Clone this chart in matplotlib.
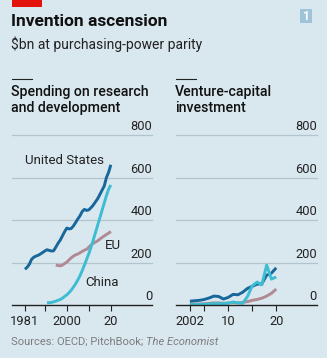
import matplotlib.pyplot as plt
from matplotlib.patches import Rectangle
from matplotlib.lines import Line2D
import matplotlib.transforms as mtransforms

# Datos: gasto en I+D ($bn, PPA)
rd_us_years = list(range(1981, 2021))
rd_us = [168, 178, 192, 215, 225, 230, 234, 240, 247, 254,
         260, 257, 254, 255, 272, 290, 305, 325, 345, 362,
         358, 360, 372, 388, 405, 420, 440, 450, 445, 448,
         458, 470, 485, 500, 520, 540, 560, 600, 625, 660]
rd_eu_years = list(range(1995, 2021))
rd_eu = [188, 186, 184, 188, 195, 202, 212, 222, 230, 236,
         240, 246, 252, 258, 262, 272, 282, 290, 296, 302,
         310, 318, 325, 332, 338, 346]
rd_cn_years = list(range(1991, 2021))
rd_cn = [10, 11, 12, 15, 18, 22, 26, 32, 40, 48,
         58, 70, 84, 100, 118, 138, 162, 188, 215, 242,
         272, 305, 340, 375, 410, 445, 480, 515, 545, 565]

# Datos: capital riesgo ($bn)
vc_years = list(range(2002, 2021))
vc_us = [18, 20, 22, 26, 33, 42, 40, 28, 36, 50, 48, 60, 78, 88, 98, 100, 140, 150, 175]
vc_cn = [2, 2, 3, 4, 5, 6, 7, 6, 9, 14, 10, 8, 40, 90, 108, 95, 188, 122, 132]
vc_eu = [6, 5, 5, 6, 8, 10, 10, 8, 9, 11, 10, 12, 16, 22, 26, 32, 42, 55, 75]

y_ticks = [0, 200, 400, 600, 800]
rd_xticks = [1981, 1990, 2000, 2010, 2020]
rd_xlabels = ["1981", "", "2000", "", "20"]
vc_xticks = [2002, 2005, 2010, 2015, 2020]
vc_xlabels = ["2002", "", "10", "", "20"]

BG = "#d9e7ef"
US = "#17679a"
CN = "#3dbdd3"
EU = "#b08a92"
GRID = "#b3c4ce"
TXT = "#222222"

W, H = 327, 358
fig = plt.figure(figsize=(W / 100, H / 100), dpi=100, facecolor=BG)
plt.rcParams["font.family"] = "Roboto"


def fx(x):
    return x / W


def fy(y):
    return 1 - y / H


# Cabecera
fig.add_artist(Rectangle((fx(12), fy(7)), fx(30), 7 / H, transform=fig.transFigure,
                         facecolor="#e3120b", edgecolor="none"))
fig.add_artist(Rectangle((fx(300), fy(23)), fx(12), 14 / H, transform=fig.transFigure,
                         facecolor="#9fc3d7", edgecolor="none"))
fig.text(fx(306), fy(16), "1", color="white", fontsize=8.5, fontweight="bold",
         ha="center", va="center")
fig.text(fx(11), fy(22), "Invention ascension", fontsize=12.5, fontweight="bold",
         color="#111111", va="center")
fig.text(fx(11), fy(44), "$bn at purchasing-power parity", fontsize=10,
         color="#222222", va="center")

for x0, title in [(12, "Spending on research\nand development"),
                  (176, "Venture-capital\ninvestment")]:
    fig.add_artist(Line2D([fx(x0), fx(x0 + 20)], [fy(79), fy(79)],
                          transform=fig.transFigure, color="#222222", lw=0.8))
    fig.text(fx(x0 - 1), fy(100), title, fontsize=10.2, fontweight="medium",
             color="#111111", va="center", linespacing=1.15)

bottom = fy(305)
height = (305 - 135) / H
ax1 = fig.add_axes([fx(12), bottom, fx(140), height])
ax2 = fig.add_axes([fx(176), bottom, fx(141), height])


def estilo(ax, xlim, xticks, xlabels):
    ax.set_facecolor("none")
    ax.set_xlim(*xlim)
    ax.set_ylim(0, 800)
    for s in ax.spines.values():
        s.set_visible(False)
    ax.set_yticks([])
    for v in y_ticks[1:]:
        ax.axhline(v, color=GRID, lw=0.9, zorder=1, clip_on=False)
    ax.axhline(0, color="#222222", lw=1.0, zorder=5, clip_on=False)
    trans = mtransforms.blended_transform_factory(ax.transAxes, ax.transData)
    for v in y_ticks:
        ax.text(1.0, v + 8, str(v), transform=trans, ha="right", va="bottom",
                fontsize=9.3, color=TXT)
    ax.set_xticks(xticks)
    ax.set_xticklabels(xlabels)
    ax.tick_params(axis="x", length=4, width=0.8, color="#222222", pad=3,
                   labelsize=9.3, labelcolor=TXT, direction="out")


estilo(ax1, (1975.1, 2038.7), rd_xticks, rd_xlabels)
estilo(ax2, (1999.1, 2028.5), vc_xticks, vc_xlabels)

ax1.plot(rd_eu_years, rd_eu, color=EU, lw=2.1, zorder=3, solid_capstyle="butt")
ax1.plot(rd_us_years, rd_us, color=US, lw=2.1, zorder=4, solid_capstyle="butt")
ax1.plot(rd_cn_years, rd_cn, color=CN, lw=2.1, zorder=4, solid_capstyle="butt")
ax1.text(2016.8, 682, "United States", ha="right", va="center", fontsize=9.5, color=TXT)
ax1.text(2017.3, 282, "EU", ha="left", va="center", fontsize=9.5, color=TXT)
ax1.text(2008.6, 104, "China", ha="left", va="center", fontsize=9.5, color=TXT)

ax2.plot(vc_years, vc_eu, color=EU, lw=2.1, zorder=3, solid_capstyle="butt")
ax2.plot(vc_years, vc_us, color=US, lw=2.1, zorder=4, solid_capstyle="butt")
ax2.plot(vc_years, vc_cn, color=CN, lw=2.1, zorder=4, solid_capstyle="butt")

# Fuente
src = fig.text(fx(11), fy(342), "Sources: OECD; PitchBook;", fontsize=8,
               color="#7d7d7d", va="center")
fig.canvas.draw()
ext = src.get_window_extent()
fig.text((ext.x1 + 3) / W, fy(342), "The Economist", fontsize=8, color="#7d7d7d",
         va="center", style="italic")

fig.savefig("out.png", dpi=100, facecolor=BG)
